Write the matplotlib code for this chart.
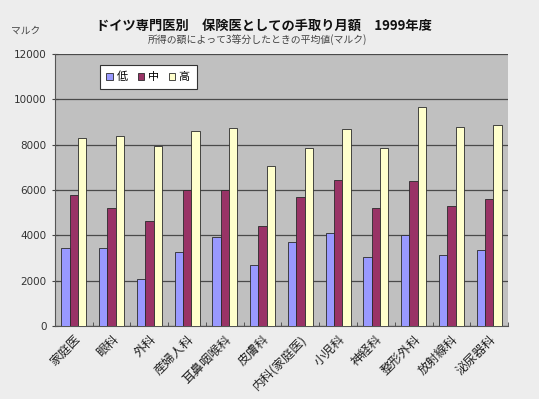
import numpy as np
import matplotlib.pyplot as plt

plt.rcParams['font.family'] = ['Noto Sans CJK JP', 'DejaVu Sans']

# 診療科と3区分の平均値(マルク)
categories = ['家庭医', '眼科', '外科', '産婦人科', '耳鼻咽喉科', '皮膚科',
              '内科(家庭医)', '小児科', '神経科', '整形外科', '放射線科', '泌尿器科']
low = [3440, 3450, 2080, 3280, 3940, 2690, 3700, 4100, 3040, 4000, 3140, 3370]
mid = [5770, 5210, 4640, 5980, 5990, 4430, 5700, 6420, 5200, 6380, 5300, 5580]
high = [8270, 8360, 7920, 8620, 8710, 7070, 7870, 8680, 7870, 9640, 8780, 8860]
series_names = ['低', '中', '高']
yticks = [0, 2000, 4000, 6000, 8000, 10000, 12000]

colors = ['#9999ff', '#993366', '#ffffcc']

fig = plt.figure(figsize=(5.39, 3.99), dpi=100)
fig.patch.set_facecolor('#ededed')
ax = fig.add_axes([0.102, 0.183, 0.8405, 0.682])
ax.set_facecolor('#c0c0c0')

x = np.arange(len(categories))
w = 0.222
for i, vals in enumerate([low, mid, high]):
    ax.bar(x + (i - 1) * w, vals, width=w, color=colors[i], edgecolor='#2a2a2a',
           linewidth=0.6, label=series_names[i], zorder=3)

ax.set_xlim(-0.5, len(categories) - 0.5)
ax.set_ylim(0, 12000)
ax.set_yticks(yticks)
ax.set_yticklabels([str(v) for v in yticks], fontsize=7.5, color='#333333',
                   family=['DejaVu Sans'])
ax.yaxis.grid(True, color='#4a4a4a', linewidth=0.9, zorder=1)
ax.tick_params(axis='y', length=4, width=0.8, color='#444444', direction='inout', pad=4)

# 区切り目盛り
ax.set_xticks(np.arange(len(categories) + 1) - 0.5, minor=True)
ax.set_xticks(x)
ax.set_xticklabels(categories, rotation=45, ha='right', rotation_mode='anchor',
                   fontsize=9, color='#222222')
ax.tick_params(axis='x', which='major', length=0, pad=5)
ax.tick_params(axis='x', which='minor', length=3, direction='in', color='#444444')

for s in ['top', 'right']:
    ax.spines[s].set_visible(False)
for s in ['left', 'bottom']:
    ax.spines[s].set_color('#555555')
    ax.spines[s].set_linewidth(0.8)

leg = ax.legend(loc='upper left', bbox_to_anchor=(0.099, 0.96), borderaxespad=0,
                ncol=3, fontsize=8, frameon=True, fancybox=False,
                edgecolor='#333333', framealpha=1,
                handlelength=0.6, handleheight=0.6, handletextpad=0.3,
                columnspacing=0.9, borderpad=0.6)
leg.get_frame().set_linewidth(0.8)

fig.text(0.49, 0.935, 'ドイツ専門医別　保険医としての手取り月額　1999年度',
         ha='center', va='center', fontsize=9.5, fontweight='bold', color='#111111')
fig.text(0.478, 0.902, '所得の額によって3等分したときの平均値(マルク)',
         ha='center', va='center', fontsize=7.1, color='#444444')
fig.text(0.02, 0.922, 'マルク', ha='left', va='center', fontsize=7, color='#444444')

fig.savefig('out.png', dpi=100, facecolor=fig.get_facecolor())
